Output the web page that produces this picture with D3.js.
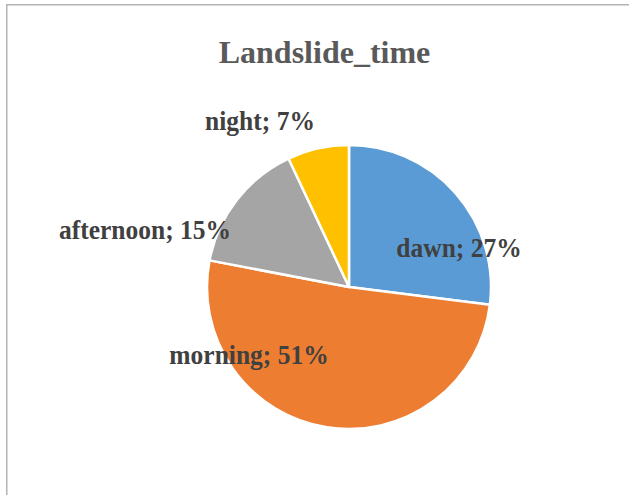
<!DOCTYPE html>
<html>
<head>
<meta charset="utf-8">
<script src="https://cdn.jsdelivr.net/npm/d3@7"></script>
<style>
  body { margin: 0; background: #fff; }
  svg { display: block; }
</style>
</head>
<body>
<svg></svg>
<script>
let categories = ["dawn", "morning", "afternoon", "night"];
let shares = [27, 51, 15, 7];
let colors = ["#5B9BD5", "#ED7D31", "#A5A5A5", "#FFC000"];

// label centre x / baseline y, relative to the pie centre
let labelOffsets = [[110, -30], [-100, 77], [-204, -48], [-89, -157]];

let width = 629;
let height = 495;
let cx = 349;
let cy = 287;
let radius = 142;

let svg = d3.select("svg")
  .attr("width", width)
  .attr("height", height);

// chart frame (runs off the right and bottom of the picture)
svg.append("rect")
   .attr("x", 6.75)
   .attr("y", 4.75)
   .attr("width", 700)
   .attr("height", 600)
   .attr("fill", "#fff")
   .attr("stroke", "#b3b3b3")
   .attr("stroke-width", 1.5);

svg.append("text")
   .text("Landslide_time")
   .attr("x", 324.5)
   .attr("y", 63)
   .attr("text-anchor", "middle")
   .style("font-family", "'Liberation Serif', 'Times New Roman', serif")
   .style("font-weight", "bold")
   .style("font-size", "32px")
   .style("fill", "#595959");

let data = categories.map((c, i) => ({ name: c, value: shares[i], color: colors[i], off: labelOffsets[i] }));

let pie = d3.pie()
  .value(d => d.value)
  .sort(null);

let arc = d3.arc()
  .innerRadius(0)
  .outerRadius(radius);

let g = svg.append("g")
  .attr("transform", "translate(" + cx + "," + cy + ")");

g.selectAll("path")
 .data(pie(data))
 .enter()
 .append("path")
 .attr("d", arc)
 .attr("fill", d => d.data.color)
 .attr("stroke", "#fff")
 .attr("stroke-width", 2.5)
 .attr("stroke-linejoin", "round");

g.selectAll("text.label")
 .data(pie(data))
 .enter()
 .append("text")
 .attr("class", "label")
 .text(d => d.data.name + "; " + d.data.value + "%")
 .attr("transform", d => "translate(" + d.data.off[0] + "," + d.data.off[1] + ") scale(1,1.1)")
 .attr("text-anchor", "middle")
 .style("font-family", "'Liberation Serif', 'Times New Roman', serif")
 .style("font-weight", "bold")
 .style("font-size", "25.5px")
 .style("fill", "#404040");
</script>
</body>
</html>
